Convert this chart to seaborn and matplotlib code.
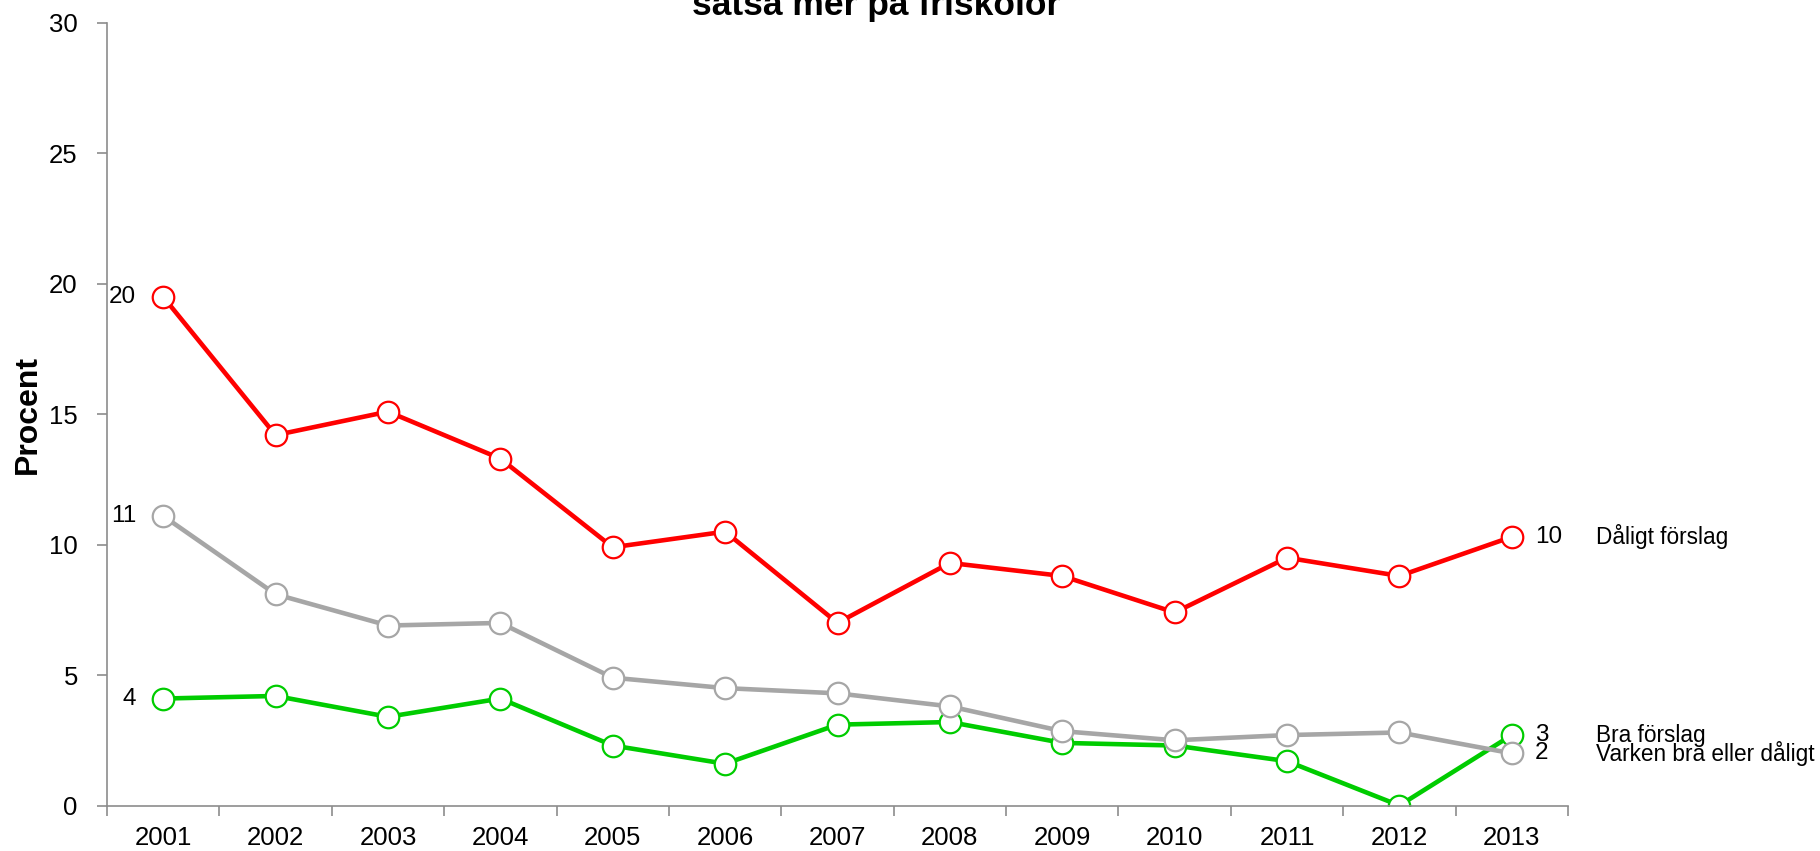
import matplotlib
matplotlib.use("Agg")
import matplotlib.pyplot as plt
import seaborn as sns
import pandas as pd
import numpy as np

years = ["2001", "2002", "2003", "2004", "2005", "2006", "2007",
         "2008", "2009", "2010", "2011", "2012", "2013"]
daligt = [19.5, 14.2, 15.1, 13.3, 9.9, 10.5, 7.0, 9.3, 8.8, 7.4, 9.5, 8.8, 10.3]
varken = [11.1, 8.1, 6.9, 7.0, 4.9, 4.5, 4.3, 3.8, 2.85, 2.5, 2.7, 2.8, 2.0]
bra = [4.1, 4.2, 3.4, 4.1, 2.3, 1.6, 3.1, 3.2, 2.4, 2.3, 1.7, 0.0, 2.7]

series_names = ["Bra förslag", "Varken bra eller dåligt", "Dåligt förslag"]
series_values = [bra, varken, daligt]
first_labels = ["4", "11", "20"]
last_labels = ["3", "2", "10"]
colors = ["#00CC00", "#A6A6A6", "#FF0000"]

title = "satsa mer på friskolor"
ylabel = "Procent"

sns.set_theme(style="white")
plt.rcParams["font.family"] = ["Liberation Sans", "DejaVu Sans"]
plt.rcParams["text.color"] = "black"
plt.rcParams["axes.labelcolor"] = "black"
plt.rcParams["xtick.color"] = "black"
plt.rcParams["ytick.color"] = "black"

fig = plt.figure(figsize=(18.2, 8.51), dpi=100)
ax = fig.add_axes([107 / 1820, 1 - 805.5 / 851, (1568 - 107) / 1820, (805.5 - 23) / 851])

frames = []
for name, vals in zip(series_names, series_values):
    frames.append(pd.DataFrame({"year": years, "value": vals, "series": name}))
df = pd.concat(frames, ignore_index=True)

for name, col in zip(series_names, colors):
    sub = df[df["series"] == name]
    sns.lineplot(data=sub, x="year", y="value", ax=ax, color=col, lw=3.3,
                 marker="o", markersize=15.5, markerfacecolor="white",
                 markeredgecolor=col, markeredgewidth=1.6, legend=False)

ax.set_xlim(-0.5, len(years) - 0.5)
ax.set_ylim(0, 30)
ax.set_yticks(np.arange(0, 31, 5))
ax.set_xticks(range(len(years)))
ax.set_xticklabels(years)
ax.set_xticks(np.arange(-0.5, len(years), 1.0), minor=True)

for s in ["top", "right"]:
    ax.spines[s].set_visible(False)
for s in ["left", "bottom"]:
    ax.spines[s].set_color("#8C8C8C")
    ax.spines[s].set_linewidth(1.2)

ax.tick_params(axis="y", which="major", direction="out", length=7, width=1.2,
               color="#8C8C8C", labelsize=18.5, pad=14, left=True, labelcolor="black")
ax.tick_params(axis="x", which="major", length=0, labelsize=18.5, pad=15, labelcolor="black")
ax.tick_params(axis="x", which="minor", direction="out", length=7, width=1.2,
               color="#8C8C8C", bottom=True)

ax.set_xlabel("")
ax.set_ylabel("")
ax.grid(False)

fig.text(28 / 1820, 1 - 414 / 851, ylabel, rotation=90, ha="center", va="center",
         fontsize=23, fontweight="bold", color="black")

n = len(years) - 1
for vals, fl, ll, name in zip(series_values, first_labels, last_labels, series_names):
    ax.annotate(fl, xy=(0, vals[0]), xytext=(-27, 0), textcoords="offset pixels",
                ha="right", va="center", fontsize=17.5, color="black")
    ax.annotate(ll, xy=(n, vals[-1]), xytext=(23, 0), textcoords="offset pixels",
                ha="left", va="center", fontsize=17.5, color="black")
    ax.annotate(name, xy=(n, vals[-1]), xytext=(84, 0), textcoords="offset pixels",
                ha="left", va="center", fontsize=16.3, color="black",
                annotation_clip=False)

fig.text(876 / 1820, 1 - 15 / 851, title, ha="center", va="baseline",
         fontsize=25.5, fontweight="bold", color="black")

fig.savefig("out.png", dpi=100)
